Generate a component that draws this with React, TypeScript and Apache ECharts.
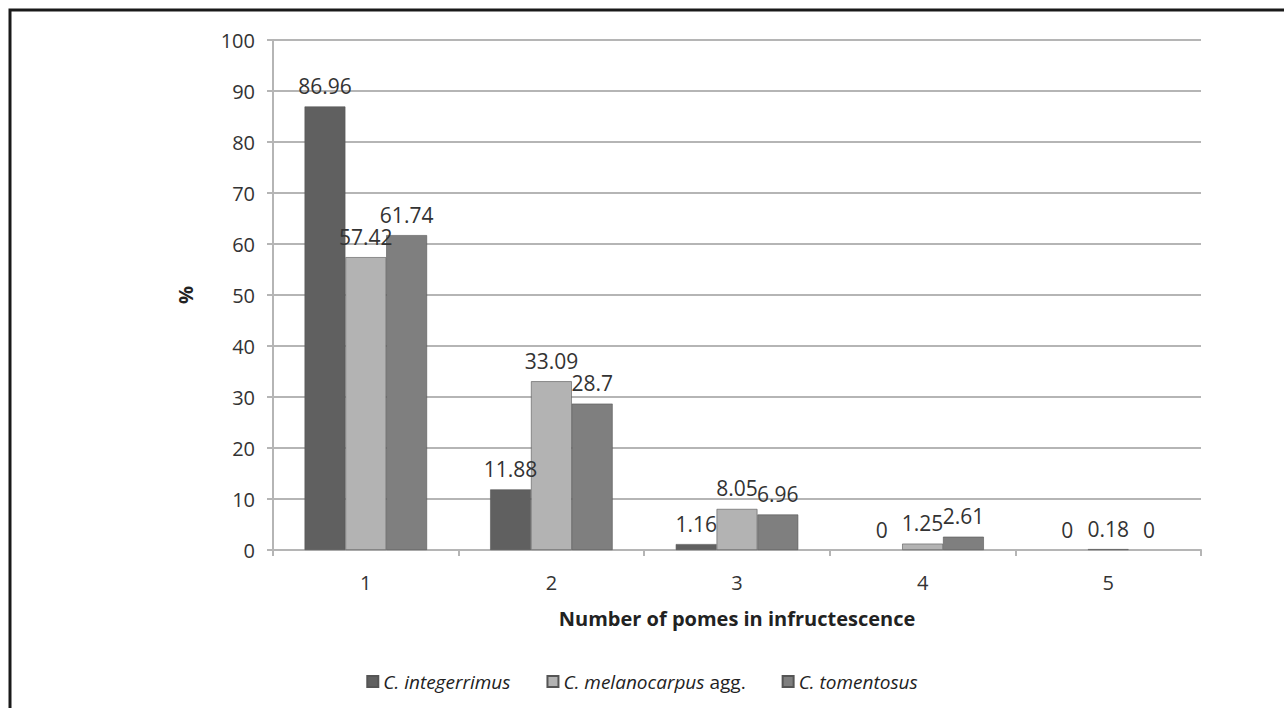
import React, { useEffect, useRef } from "react";
import * as echarts from "echarts";

const categories = ["1", "2", "3", "4", "5"];
const integerrimus = [86.96, 11.88, 1.16, 0, 0];
const melanocarpus = [57.42, 33.09, 8.05, 1.25, 0.18];
const tomentosus = [61.74, 28.7, 6.96, 2.61, 0];
const yTicks = [0, 10, 20, 30, 40, 50, 60, 70, 80, 90, 100];

const FONT = "'Open Sans', 'Noto Sans', sans-serif";

export default function App() {
  const ref = useRef<HTMLDivElement>(null);
  useEffect(() => {
    if (!ref.current) return;
    const chart = echarts.init(ref.current, undefined, { renderer: "svg" });
    const label = {
      show: true,
      position: "top" as const,
      distance: 10,
      color: "#333",
      fontSize: 21,
      fontFamily: FONT,
    };
    const mk = (name: string, data: number[], color: string) => ({
      name,
      type: "bar" as const,
      data: data.map((v) => ({
        value: v,
        itemStyle: v === 0 ? { borderWidth: 0 } : undefined,
      })),
      barGap: "0%",
      barCategoryGap: "34%",
      itemStyle: { color, borderColor: "#555", borderWidth: 0.6 },
      label,
    });
    chart.setOption({
      animation: false,
      textStyle: { fontFamily: FONT },
      graphic: [
        {
          type: "rect",
          shape: { x: 10, y: 10, width: 1400, height: 800 },
          style: { fill: "none", stroke: "#1a1a1a", lineWidth: 3 },
        },
      ],
      grid: { left: 273, top: 40, right: 83, bottom: 158 },
      legend: {
        bottom: 12,
        left: "center",
        itemWidth: 11,
        itemHeight: 11,
        itemGap: 36,
        icon: "rect",
        textStyle: {
          fontSize: 19,
          color: "#222",
          fontFamily: FONT,
          rich: {
            i: { fontSize: 19, color: "#222", fontFamily: FONT, fontStyle: "italic" },
            n: { fontSize: 19, color: "#222", fontFamily: FONT, fontStyle: "normal" },
          },
        },
        formatter: (n: string) =>
          n === "C. melanocarpus agg." ? "{i|C. melanocarpus} {n|agg.}" : "{i|" + n + "}",
        data: ["C. integerrimus", "C. melanocarpus agg.", "C. tomentosus"],
      },
      xAxis: {
        type: "category",
        data: categories,
        name: "Number of pomes in infructescence",
        nameLocation: "middle",
        nameGap: 58,
        nameTextStyle: { fontSize: 20, fontWeight: "bold", color: "#222", fontFamily: FONT },
        axisLine: { lineStyle: { color: "#b5b5b5", width: 2 } },
        axisTick: { show: true, length: 6, lineStyle: { color: "#b5b5b5", width: 2 } },
        axisLabel: { fontSize: 20, color: "#333", margin: 22, fontFamily: FONT },
      },
      yAxis: {
        type: "value",
        min: 0,
        max: 100,
        interval: 10,
        name: "%",
        nameLocation: "middle",
        nameGap: 78,
        nameRotate: 90,
        nameTextStyle: { fontSize: 20, fontWeight: "bold", color: "#222", fontFamily: FONT },
        axisLine: { show: true, lineStyle: { color: "#b5b5b5", width: 2 } },
        axisTick: { show: true, length: 6, lineStyle: { color: "#b5b5b5", width: 2 } },
        splitLine: { lineStyle: { color: "#b5b5b5", width: 2 } },
        axisLabel: {
          fontSize: 20,
          color: "#333",
          margin: 18,
          fontFamily: FONT,
          formatter: (v: number) => (yTicks.includes(v) ? String(v) : ""),
        },
      },
      series: [
        mk("C. integerrimus", integerrimus, "#606060"),
        mk("C. melanocarpus agg.", melanocarpus, "#b3b3b3"),
        mk("C. tomentosus", tomentosus, "#7f7f7f"),
      ],
    });
    return () => chart.dispose();
  }, []);
  return (
    <div
      ref={ref}
      style={{ position: "fixed", left: 0, top: 0, width: 1284, height: 708, background: "#fff" }}
    />
  );
}
